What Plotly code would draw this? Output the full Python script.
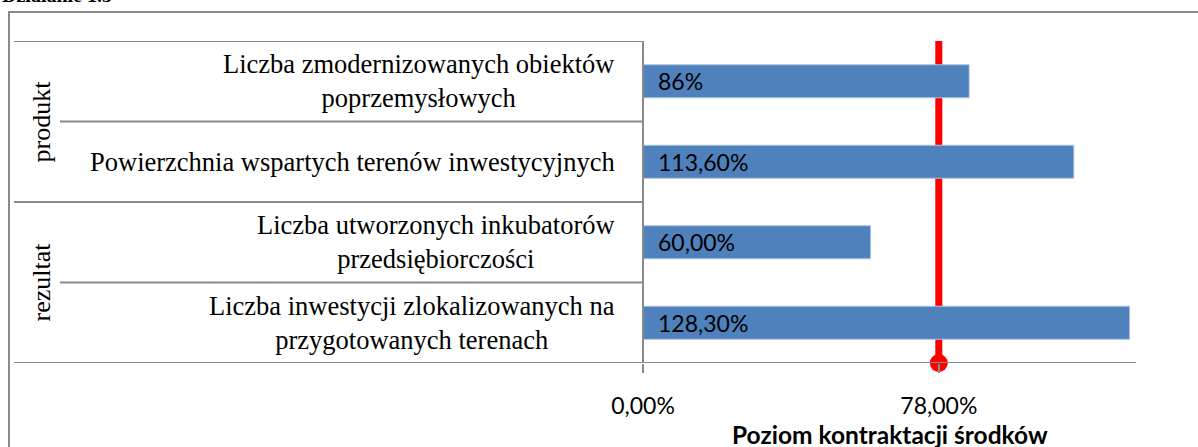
import plotly.graph_objects as go

# ---- data ----
categories = [
    "Liczba zmodernizowanych obiektów<br>poprzemysłowych",
    "Powierzchnia wspartych terenów inwestycyjnych",
    "Liczba utworzonych inkubatorów<br>przedsiębiorczości",
    "Liczba inwestycji zlokalizowanych na<br>przygotowanych terenach",
]
values = [86.0, 113.6, 60.0, 128.3]
value_labels = ["86%", "113,60%", "60,00%", "128,30%"]
groups = ["produkt", "rezultat"]
group_sizes = [2, 2]
target = 78.0
tick_values = [0.0, target]
tick_labels = ["0,00%", "78,00%"]
x_title = "Poziom kontraktacji środków"
top_text = "Działanie 1.3"

# ---- layout geometry (pixels) ----
W, H = 1198, 447
L, R, T, B = 643, 1136, 41, 363
X_MAX = 130

def xp(px):
    return (px - L) / (R - L)

def yp(py):
    return (B - py) / (B - T)

GREY = "#8a8a8a"
BLUE = "#4F81BD"
SERIF = "Liberation Serif, Times New Roman, serif"
SANS = "Lato, Carlito, Calibri, sans-serif"

n = len(categories)
ypos = [n - 1 - i for i in range(n)]

fig = go.Figure()
fig.add_trace(go.Bar(
    x=values, y=ypos, orientation="h", width=0.41,
    marker=dict(color=BLUE, line=dict(color="#a9c1e2", width=1)),
    hoverinfo="x", showlegend=False,
))
fig.add_trace(go.Scatter(
    x=[target], y=[-0.5], mode="markers",
    marker=dict(color="#FF0000", size=18, symbol="circle"),
    cliponaxis=False, showlegend=False, hoverinfo="skip",
))

shapes = []
# outer frame
shapes.append(dict(type="rect", xref="paper", yref="paper",
                   x0=xp(9), x1=xp(1260), y0=yp(520), y1=yp(12),
                   line=dict(color=GREY, width=2), layer="below"))
# target line
shapes.append(dict(type="line", xref="x", yref="paper", x0=target, x1=target,
                   y0=0, y1=1, line=dict(color="#FF0000", width=7), layer="below"))
# row separators
group_bounds = set()
acc = 0
for s in group_sizes:
    group_bounds.add(acc)
    acc += s
group_bounds.add(acc)
for k in range(n + 1):
    ydata = n - 0.5 - k
    x0 = xp(14) if k in group_bounds else xp(60)
    x1 = 1.0 if k == n else 0.0
    shapes.append(dict(type="line", xref="paper", yref="y", x0=x0, x1=x1,
                       y0=ydata, y1=ydata, line=dict(color=GREY, width=2)))
# vertical axis line
shapes.append(dict(type="line", xref="paper", yref="paper", x0=0, x1=0,
                   y0=0, y1=1, line=dict(color=GREY, width=2)))

annotations = []
for i, (c, yv) in enumerate(zip(categories, ypos)):
    annotations.append(dict(xref="paper", yref="y", x=0, y=yv, xshift=-26,
                            xanchor="right", yanchor="middle", align="center",
                            text=c, showarrow=False,
                            font=dict(family=SERIF, size=26.5, color="black")))
    annotations.append(dict(xref="paper", yref="y", x=0, y=yv, xshift=13,
                            xanchor="left", yanchor="middle",
                            text=value_labels[i], showarrow=False,
                            font=dict(family=SANS, size=23, color="black")))
acc = 0
for g, s in zip(groups, group_sizes):
    center = n - 0.5 - acc - s / 2
    annotations.append(dict(xref="paper", yref="y", x=xp(41), y=center,
                            xanchor="center", yanchor="middle", textangle=-90,
                            text=g, showarrow=False,
                            font=dict(family=SERIF, size=26, color="black")))
    acc += s
# x-axis title
annotations.append(dict(xref="paper", yref="paper", x=0.5, y=yp(434),
                        xanchor="center", yanchor="middle",
                        text="<b>" + x_title + "</b>", showarrow=False,
                        font=dict(family=SANS, size=24.5, color="black")))
# clipped heading at the very top
annotations.append(dict(xref="paper", yref="paper", x=xp(0), y=yp(-5),
                        xanchor="left", yanchor="middle", text="<b>" + top_text + "</b>",
                        showarrow=False, font=dict(family=SERIF, size=20, color="black")))

fig.update_layout(
    width=W, height=H,
    margin=dict(l=L, r=W - R, t=T, b=H - B, pad=0, autoexpand=False),
    paper_bgcolor="white", plot_bgcolor="white",
    shapes=shapes, annotations=annotations,
    xaxis=dict(range=[0, X_MAX], tickvals=tick_values, ticktext=tick_labels,
               ticks="outside", ticklen=9, tickwidth=2, tickcolor=GREY,
               showgrid=False, zeroline=False, showline=False,
               automargin=False, ticklabelstandoff=13,
               tickfont=dict(family=SANS, size=23, color="black")),
    yaxis=dict(range=[-0.5, n - 0.5], showticklabels=False, showgrid=False,
               zeroline=False, showline=False, ticks="", automargin=False),
)

fig.write_html("out.html", config={"displayModeBar": False},
               post_script="document.body.style.margin='0';document.body.style.overflow='hidden';")
